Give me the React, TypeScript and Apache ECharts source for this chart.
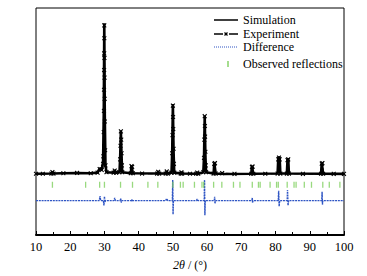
import React, { useEffect, useRef } from "react";
import * as echarts from "echarts";

// Simulated pattern [2θ, intensity]
const simulation: [number, number][] = [
  [10, 5], [14.5, 6], [14.8, 18], [15.1, 6], [18, 8], [22, 10], [26, 8], [28.0, 12], [28.5, 35], [28.8, 40], [29.2, 30],
  [29.6, 80], [29.8, 400], [29.95, 1000], [30.1, 400], [30.3, 60], [30.6, 15], [32.7, 12], [33.0, 28], [33.4, 12],
  [34.4, 15], [34.6, 120], [34.8, 290], [35.0, 120], [35.2, 15], [37.7, 8], [37.9, 58], [38.1, 58], [38.3, 8],
  [45.4, 6], [45.7, 20], [46.0, 6], [47.9, 6], [48.2, 22], [48.5, 6], [49.6, 12], [49.8, 150], [50.0, 465],
  [50.2, 150], [50.4, 12], [52.3, 6], [52.5, 15], [52.7, 6], [56.8, 5], [57.1, 12], [57.4, 5], [58.9, 15],
  [59.1, 120], [59.3, 390], [59.5, 120], [59.7, 15], [61.9, 6], [62.1, 78], [62.3, 78], [62.5, 6], [64.2, 3],
  [64.4, 10], [64.6, 3], [72.9, 5], [73.1, 55], [73.3, 55], [73.5, 5], [80.6, 6], [80.8, 110], [81.0, 115],
  [81.2, 110], [81.4, 6], [83.3, 6], [83.5, 100], [83.7, 105], [83.9, 6], [93.3, 5], [93.5, 78], [93.7, 78],
  [93.9, 5], [100, 4],
];

// Experimental points [2θ, intensity]
const experiment: [number, number][] = [
  [10, 5], [12, 5], [14.5, 6], [14.8, 16], [15.1, 6], [18, 8], [22, 10], [26, 8], [28.0, 12], [28.6, 36], [29.2, 30],
  [29.6, 70], [29.7, 120], [29.8, 280], [29.85, 420], [29.88, 560], [29.91, 690],
  [29.93, 800], [29.95, 985], [29.97, 900], [30.0, 770], [30.03, 640], [30.06, 500], [30.1, 350], [30.2, 160],
  [30.3, 60], [30.6, 15], [32.7, 12], [33.0, 26], [33.4, 12], [34.4, 15], [34.6, 100], [34.7, 190], [34.8, 285],
  [34.9, 230], [35.0, 140], [35.1, 60], [35.2, 15], [37.7, 8], [37.9, 55], [38.1, 50], [38.3, 8], [41, 6],
  [45.4, 6], [45.7, 18], [46.0, 6], [47.9, 6], [48.2, 20], [48.5, 6], [49.6, 12], [49.8, 140], [49.9, 260],
  [50.0, 455], [50.05, 380], [50.1, 300], [50.2, 170], [50.3, 70], [50.4, 12], [52.3, 6], [52.5, 14], [52.7, 6],
  [55, 5], [56.8, 5], [57.1, 12], [57.4, 5], [58.9, 15], [59.1, 110], [59.2, 230], [59.3, 385],
  [59.35, 320], [59.4, 250], [59.5, 150], [59.6, 60], [59.7, 15], [61.9, 6], [62.1, 70], [62.3, 75], [62.5, 6],
  [64.4, 9], [68, 4], [72.9, 5], [73.1, 50], [73.3, 52], [73.5, 5], [77, 5], [80.6, 6], [80.8, 100], [81.0, 112],
  [81.2, 100], [81.4, 6], [83.3, 6], [83.5, 95], [83.7, 100], [83.9, 6], [88, 4], [93.3, 5], [93.5, 72],
  [93.7, 75], [93.9, 5], [97, 4], [100, 4],
];

// Difference curve [2θ, Iobs - Icalc]
const difference: [number, number][] = [
  [10, 0], [28.5, 0], [28.7, 30], [28.9, 0], [29.7, 0], [29.85, -32], [30.0, 28], [30.15, -10], [30.3, 0],
  [32.8, 0], [33.0, 18], [33.2, 0], [34.6, 0], [34.75, 14], [34.9, -12], [35.1, 0], [37.9, 0], [38.0, 8],
  [38.1, -6], [38.2, 0], [47.9, 0], [48.2, 14], [48.5, 0], [49.85, 0], [49.95, 136], [50.05, -91], [50.15, 0],
  [56.9, 0], [57.1, 10], [57.3, 0], [59.15, 0], [59.25, 136], [59.35, -97], [59.45, 0], [62.1, 0], [62.2, 26],
  [62.3, -20], [62.4, 0], [73.1, 0], [73.2, 18], [73.3, -15], [73.4, 0], [80.8, 0], [80.9, 65], [81.05, -38],
  [81.2, 0], [83.4, 0], [83.5, 71], [83.65, -32], [83.8, 0], [93.5, 0], [93.6, 58], [93.7, -26], [93.8, 0],
  [100, 0],
];

// Observed reflection positions (2θ)
const reflections: number[] = [
  14.8, 24.5, 28.6, 30.0, 34.7, 38.2, 42.7, 45.6, 50.0, 52.2, 53.0, 56.3, 58.5, 59.0, 61.9, 64.3, 67.7,
  69.6, 73.2, 75.0, 75.5, 78.4, 80.3, 80.8, 83.4, 85.4, 86.0, 88.4, 90.5, 93.8, 95.7, 98.8,
];

const xTicks = [10, 20, 30, 40, 50, 60, 70, 80, 90, 100];

const DIFF_OFFSET = -173;
const TICK_LEVEL = -68;
const FONT = "Liberation Serif";
const BLUE = "#2f55c4";
const GREEN = "#7fcf5f";

export default function App() {
  const ref = useRef<HTMLDivElement>(null);
  useEffect(() => {
    if (!ref.current) return;
    const chart = echarts.init(ref.current, undefined, { renderer: "svg" });
    const starPath = "path://M4,0 L6,0 L6,4 L10,4 L10,6 L6,6 L6,10 L4,10 L4,6 L0,6 L0,4 L4,4 Z";
    const lx0 = 214, lx1 = 238, tx = 243;
    const rows = [20, 34, 47, 64];
    chart.setOption({
      animation: false,
      backgroundColor: "#ffffff",
      grid: { left: 36, right: 23, top: 8, bottom: 37, show: true, borderColor: "#000", borderWidth: 1 },
      xAxis: {
        type: "value",
        min: 10,
        max: 100,
        interval: 10,
        axisLine: { show: true, onZero: false, lineStyle: { color: "#000", width: 2 } },
        axisTick: { show: true, inside: true, length: 4, lineStyle: { color: "#000" } },
        minorTick: { show: true, splitNumber: 2, length: 3, lineStyle: { color: "#000" } },
        splitLine: { show: false },
        axisLabel: {
          color: "#000", fontSize: 12.5, fontFamily: FONT, margin: 5,
          formatter: (v: number) => (xTicks.includes(v) ? String(v) : ""),
        },
        name: "{i|2θ} / (°)",
        nameLocation: "middle",
        nameGap: 24,
        nameTextStyle: {
          color: "#000", fontSize: 12, fontFamily: FONT,
          rich: { i: { fontStyle: "italic", fontSize: 12, fontFamily: FONT, color: "#000" } },
        },
      },
      yAxis: {
        type: "value",
        min: -400,
        max: 1100,
        axisLine: { show: false },
        axisTick: { show: false },
        axisLabel: { show: false },
        splitLine: { show: false },
      },
      series: [
        {
          name: "Difference",
          type: "line",
          data: difference.map(([x, y]) => [x, y + DIFF_OFFSET]),
          showSymbol: false,
          lineStyle: { color: BLUE, width: 1.4, type: [2, 0.8] },
          z: 2,
        },
        {
          name: "Observed reflections",
          type: "scatter",
          data: reflections.map((x) => [x, TICK_LEVEL]),
          symbol: "rect",
          symbolSize: [1.3, 6],
          itemStyle: { color: GREEN },
          z: 2,
        },
        {
          name: "Simulation",
          type: "line",
          data: simulation,
          showSymbol: false,
          lineStyle: { color: "#000", width: 2.6 },
          z: 3,
        },
        {
          name: "Experiment",
          type: "line",
          data: experiment,
          symbol: starPath,
          symbolRotate: 45,
          symbolSize: 5.5,
          showSymbol: true,
          showAllSymbol: true,
          itemStyle: { color: "#000" },
          lineStyle: { color: "#000", width: 1.2, type: "dashed" },
          z: 4,
        },
      ],
      graphic: [
        { type: "line", shape: { x1: lx0, y1: rows[0], x2: lx1, y2: rows[0] }, style: { stroke: "#000", lineWidth: 1.5 } },
        { type: "line", shape: { x1: lx0, y1: rows[1], x2: lx0 + 9, y2: rows[1] }, style: { stroke: "#000", lineWidth: 1.5 } },
        { type: "line", shape: { x1: lx1 - 9, y1: rows[1], x2: lx1, y2: rows[1] }, style: { stroke: "#000", lineWidth: 1.5 } },
        { type: "line", shape: { x1: 224.5, y1: rows[1] - 1.5, x2: 227.5, y2: rows[1] + 1.5 }, style: { stroke: "#000", lineWidth: 1.2 } },
        { type: "line", shape: { x1: 227.5, y1: rows[1] - 1.5, x2: 224.5, y2: rows[1] + 1.5 }, style: { stroke: "#000", lineWidth: 1.2 } },
        { type: "line", shape: { x1: lx0, y1: rows[2], x2: lx1, y2: rows[2] }, style: { stroke: BLUE, lineWidth: 1, lineDash: [1, 1] } },
        { type: "rect", shape: { x: 227.3, y: rows[3] - 3, width: 1.4, height: 6 }, style: { fill: GREEN } },
        ...["Simulation", "Experiment", "Difference", "Observed reflections"].map((t, i) => ({
          type: "text",
          x: tx,
          y: rows[i],
          style: { text: t, fill: "#000", fontSize: 12, fontFamily: FONT, verticalAlign: "middle", align: "left" },
        })),
      ],
    });
    return () => chart.dispose();
  }, []);
  return <div ref={ref} style={{ position: "fixed", left: 0, top: 0, width: 367, height: 276 }} />;
}
